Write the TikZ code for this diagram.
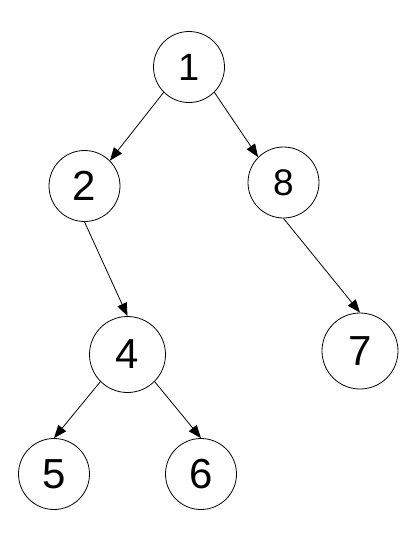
\documentclass[tikz,border=0pt]{standalone}
\usepackage{fontspec}
\setmainfont{Liberation Sans}
\usetikzlibrary{arrows.meta}
\begin{document}
\begin{tikzpicture}[x=1pt,y=-1pt,
  treenode/.style={circle,draw,line width=0.8pt,inner sep=0pt,minimum size=#1,font=\fontsize{42}{42}\selectfont},
  treenode/.default=71pt,
  edge/.style={line width=0.8pt,-{Triangle[length=13pt,width=10pt]}}]
\useasboundingbox (0,0) rectangle (411,550);
\node[treenode,font=\fontsize{38}{38}\selectfont] (n1) at (189,67) {1};
\node[treenode] (n2) at (84.5,186) {2};
\node[treenode,font=\fontsize{37}{37}\selectfont] (n8) at (283.5,182.5) {8};
\node[treenode=76pt] (n4) at (127.5,354.5) {4};
\node[treenode=76pt] (n7) at (360,351) {7};
\node[treenode] (n5) at (54,474) {5};
\node[treenode] (n6) at (201,474) {6};
\draw[edge] (n1.south west) -- (n2.north east);
\draw[edge] (n1.south east) -- (n8.north west);
\draw[edge] (n2.south) -- (n4.north);
\draw[edge] (n8.south) -- (n7.north);
\draw[edge] (n4.south west) -- (n5.north);
\draw[edge] (n4.south east) -- (n6.north);
\end{tikzpicture}
\end{document}
